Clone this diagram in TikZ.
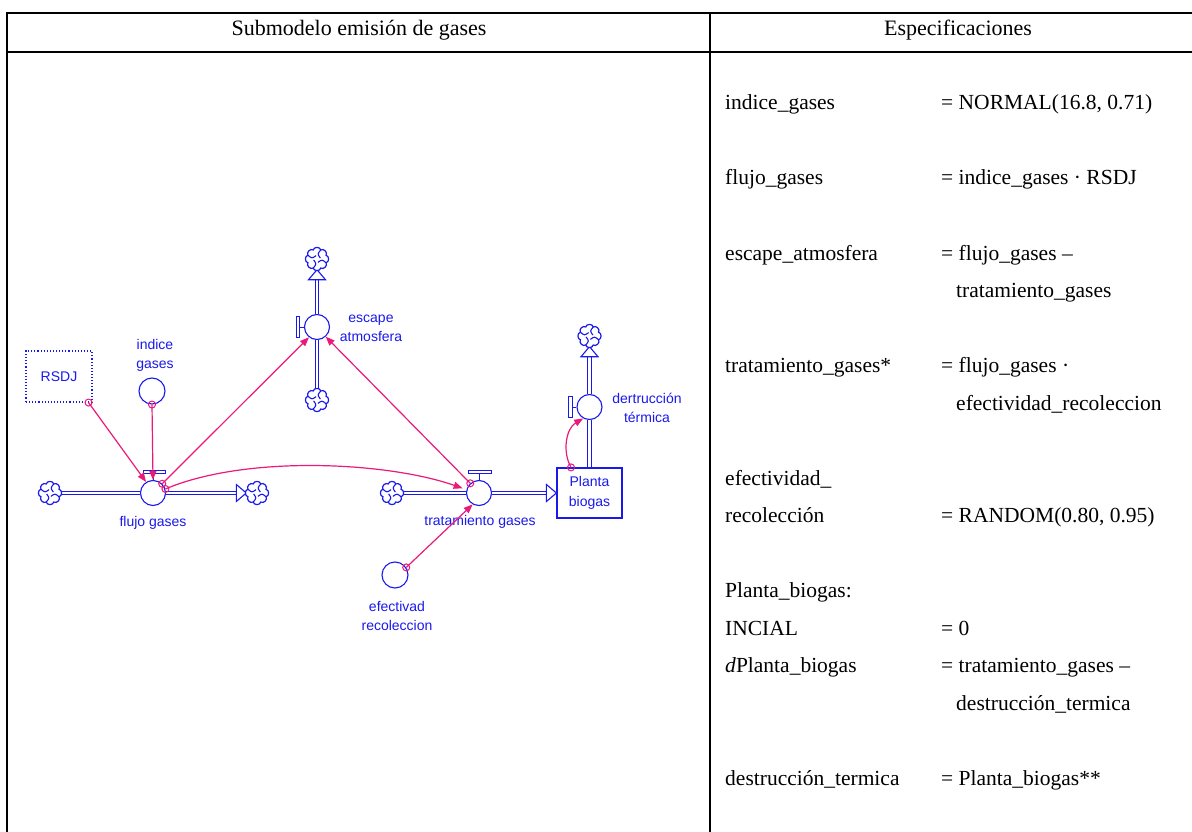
\documentclass[tikz,border=0pt]{standalone}
\usepackage{fontspec}
\setmainfont{Liberation Serif}
\newfontfamily\diagfont{Liberation Sans}
\usetikzlibrary{arrows.meta}
\definecolor{sdblue}{RGB}{25,25,235}
\definecolor{sdpink}{RGB}{235,25,120}

\begin{document}
\begin{tikzpicture}[x=1pt,y=-1pt,
  spec/.style={anchor=base west, inner sep=0pt, font=\fontsize{21.5}{25}\selectfont},
  head/.style={anchor=base, inner sep=0pt, font=\fontsize{22}{25}\selectfont},
  lbl/.style={text=sdblue, font=\diagfont\fontsize{14}{19}\selectfont, align=center, inner sep=0pt},
  cloud/.style={circle, minimum size=21pt, inner sep=0pt},
  cloudsym/.pic={
    \path[draw=sdblue, fill=white, line width=1.2pt] (-22.5:9.8)
      \foreach \k in {0,...,7}{ .. controls ({45*\k-14}:12.8) and ({45*\k+14}:12.8) .. ({45*\k+22.5}:9.8) } -- cycle;
    \foreach \a in {0,90,180,270}
      \draw[sdblue, line width=1.1pt] (\a+22.5:9.8) .. controls (\a+5:5) .. (\a+75:3.5);
  },
  valve/.style={circle, draw=sdblue, fill=white, line width=1.1pt, minimum size=25pt, inner sep=0pt},
  aux/.style={circle, draw=sdblue, fill=white, line width=1.1pt, minimum size=26pt, inner sep=0pt},
  stock/.style={rectangle, draw=sdblue, fill=white, line width=1.2pt, minimum width=65pt, minimum height=50pt,
    inner sep=0pt, text=sdblue, font=\diagfont\fontsize{14}{20}\selectfont, align=center},
  ghost/.style={rectangle, draw=sdblue, dotted, line width=1.1pt, minimum width=66pt, minimum height=51pt,
    inner sep=0pt, text=sdblue, font=\diagfont\fontsize{14}{19}\selectfont},
  pipe/.style={draw=sdblue, line width=1.1pt, double=white, double distance=2.4pt},
  phead/.style={draw=sdblue, fill=white, line width=1.1pt, line join=miter},
  handle/.style={draw=sdblue, line width=1pt, fill=white},
  infl/.style={draw=sdpink, line width=1.2pt, -{Triangle[length=9pt, width=7pt]}},
  tail/.style={draw=sdpink, line width=1pt},
]
\useasboundingbox (0,0) rectangle (1192,832);

% table rules
\draw[line width=2pt] (1192,13) -- (7,13) -- (7,832);
\draw[line width=1.8pt] (7,52) -- (1192,52);
\draw[line width=1.5pt] (710,13) -- (710,832);

% table header
\node[head] at (359,36) {Submodelo emisión de gases};
\node[head] at (958,36) {Especificaciones};

% stock-and-flow elements
\node[ghost] (rsdj) at (59,376.5) {RSDJ};
\node[aux] (ig) at (152,391) {};
\node[cloud] (c1) at (50,493) {};
\node[valve] (fv) at (153,493) {};
\node[cloud] (c2) at (257,493) {};
\node[cloud] (ce1) at (317,259) {};
\node[valve] (ev) at (317,327) {};
\node[cloud] (ce2) at (317,400) {};
\node[cloud] (c3) at (392,493) {};
\node[valve] (tv) at (479,493) {};
\node[stock] (pb) at (589.5,493) {Planta\\biogas};
\node[valve] (dv) at (589.5,407) {};
\node[cloud] (cd) at (589.5,336) {};
\node[aux] (er) at (395,575) {};

% labels
\node[lbl] at (155,355) {indice\\gases};
\node[lbl] at (153,523) {flujo gases};
\node[lbl] at (371,328) {escape\\atmosfera};
\node[lbl] at (480,522) {tratamiento gases};
\node[lbl] at (397,616) {efectivad\\recoleccion};
\node[lbl] at (647,408) {dertrucción\\térmica};

% pipes
\draw[pipe] (c1) -- (fv);
\draw[pipe] (fv) -- ([xshift=-10]c2.west);
\draw[pipe] (ce2) -- (ev);
\draw[pipe] (ev) -- ([yshift=-10]ce1.south);
\draw[pipe] (c3) -- (tv);
\draw[pipe] (tv) -- ([xshift=-10]pb.west);
\draw[pipe] (pb.north) -- (dv);
\draw[pipe] (dv) -- ([yshift=-10]cd.south);

% flow arrowheads
\draw[phead] (c2.west) -- ([xshift=-10,yshift=8.5]c2.west) -- ([xshift=-10,yshift=-8.5]c2.west) -- cycle;
\draw[phead] (pb.west) -- ([xshift=-10,yshift=8.5]pb.west) -- ([xshift=-10,yshift=-8.5]pb.west) -- cycle;
\draw[phead] (ce1.south) -- ([xshift=-8.5,yshift=-10]ce1.south) -- ([xshift=8.5,yshift=-10]ce1.south) -- cycle;
\draw[phead] (cd.south) -- ([xshift=-8.5,yshift=-10]cd.south) -- ([xshift=8.5,yshift=-10]cd.south) -- cycle;

% clouds (sources and sinks)
\foreach \n in {c1,c2,ce1,ce2,c3,cd}
  \pic at (\n) {cloudsym};

% valve handles
\draw[handle] (fv.north) -- ([yshift=6.5]fv.north);
\draw[handle] ([xshift=-10,yshift=6.5]fv.north) rectangle ([xshift=12,yshift=9.5]fv.north);
\draw[handle] (tv.north) -- ([yshift=6.5]tv.north);
\draw[handle] ([xshift=-11,yshift=6.5]tv.north) rectangle ([xshift=12,yshift=9.5]tv.north);
\draw[handle] (ev.west) -- ([xshift=-4]ev.west);
\draw[handle] ([xshift=-4,yshift=10.5]ev.west) rectangle ([xshift=-7.5,yshift=-10.5]ev.west);
\draw[handle] (dv.west) -- ([xshift=-4]dv.west);
\draw[handle] ([xshift=-4,yshift=10.5]dv.west) rectangle ([xshift=-7.5,yshift=-10.5]dv.west);

% influence connectors
\draw[infl] ([xshift=-4]rsdj.south east) -- (fv.122);
\draw[infl] (ig.south) -- (fv.north);
\draw[infl] (fv.45) -- (ev.232);
\draw[infl, shorten >=4pt] (fv.18) .. controls +(80,-34) and +(-80,-28) .. (tv.165);
\draw[infl] (tv.132) -- (ev.-48);
\draw[infl] (er.34) -- (tv.-119);
\draw[infl] ([xshift=-18.5]pb.north) .. controls +(-9,-16) and +(-17,10) .. (dv.-119);

% connector origins
\draw[tail] ([xshift=-4]rsdj.south east) circle (3.5);
\draw[tail] (ig.south) circle (3.5);
\draw[tail] (fv.45) circle (3.5);
\draw[tail] (fv.18) circle (3.5);
\draw[tail] (tv.132) circle (3.5);
\draw[tail] (er.34) circle (3.5);
\draw[tail] ([xshift=-18.5]pb.north) circle (3.5);

% specifications column
\node[spec] at (725,110) {indice\_gases};
\node[spec] at (941,110) {= NORMAL(16.8, 0.71)};
\node[spec] at (725,185) {flujo\_gases};
\node[spec] at (941,185) {= indice\_gases · RSDJ};
\node[spec] at (725,260) {escape\_atmosfera};
\node[spec] at (941,260) {= flujo\_gases –};
\node[spec] at (956,297.5) {tratamiento\_gases};
\node[spec] at (725,372.5) {tratamiento\_gases*};
\node[spec] at (941,372.5) {= flujo\_gases ·};
\node[spec] at (956,410) {efectividad\_recoleccion};
\node[spec] at (725,485) {efectividad\_};
\node[spec] at (725,522.5) {recolección};
\node[spec] at (941,522.5) {= RANDOM(0.80, 0.95)};
\node[spec] at (725,597.5) {Planta\_biogas:};
\node[spec] at (725,635) {INCIAL};
\node[spec] at (941,635) {= 0};
\node[spec] at (725,672.5) {\textit{d}Planta\_biogas};
\node[spec] at (941,672.5) {= tratamiento\_gases –};
\node[spec] at (956,710) {destrucción\_termica};
\node[spec] at (725,785) {destrucción\_termica};
\node[spec] at (941,785) {= Planta\_biogas**};
\end{tikzpicture}
\end{document}
